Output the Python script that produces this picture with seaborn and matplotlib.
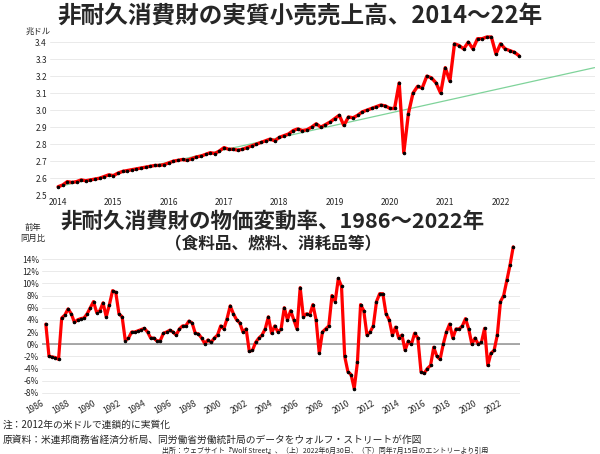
import numpy as np
import pandas as pd
import matplotlib.pyplot as plt
import seaborn as sns

sns.set_style("white")
plt.rcParams['font.family'] = ['Noto Sans CJK JP', 'DejaVu Sans']

# Top: real retail sales of nondurable goods, trillion USD, monthly 2014-01 .. 2022-05
sales = [
    2.55, 2.56, 2.58, 2.575, 2.58, 2.59, 2.585, 2.59, 2.595, 2.60, 2.61, 2.62,
    2.615, 2.63, 2.64, 2.645, 2.65, 2.655, 2.66, 2.665, 2.67, 2.675, 2.675, 2.68,
    2.69, 2.70, 2.705, 2.71, 2.705, 2.715, 2.725, 2.73, 2.74, 2.75, 2.745, 2.76,
    2.78, 2.77, 2.77, 2.765, 2.77, 2.78, 2.79, 2.80, 2.81, 2.82, 2.83, 2.82,
    2.84, 2.85, 2.86, 2.88, 2.89, 2.88, 2.885, 2.90, 2.92, 2.90, 2.915, 2.93,
    2.95, 2.97, 2.91, 2.96, 2.955, 2.97, 2.99, 3.00, 3.01, 3.02, 3.03, 3.025,
    3.01, 3.01, 3.16, 2.75, 2.98, 3.10, 3.14, 3.13, 3.20, 3.19, 3.16, 3.10,
    3.25, 3.17, 3.39, 3.38, 3.36, 3.40, 3.36, 3.42, 3.42, 3.43, 3.43, 3.33,
    3.39, 3.36, 3.35, 3.34, 3.32,
]
sales_x = [2014 + i / 12 for i in range(len(sales))]
trend_x = [2014.0, 2023.7]
trend_y = [2.55, 3.25]

# Bottom: price change, YoY %, quarterly from 1986
infl = [
    3.3, -2.0, -2.1, -2.2, -2.5, 4.3, 4.8, 5.8, 5.0, 3.6, 4.0, 4.2,
    4.3, 5.0, 6.0, 7.0, 5.2, 5.5, 6.8, 4.5, 6.5, 8.8, 8.5, 5.0,
    4.5, 0.6, 1.0, 2.0, 2.0, 2.2, 2.4, 2.6, 2.0, 1.0, 1.0, 0.5,
    0.6, 1.8, 2.0, 2.3, 2.0, 1.5, 2.5, 3.0, 3.0, 3.8, 3.5, 1.8,
    1.7, 1.0, 0.1, 0.7, 0.3, 1.0, 1.5, 3.0, 2.5, 4.2, 6.3, 5.0,
    4.0, 3.5, 2.0, 2.5, -1.2, -1.0, 0.3, 1.0, 1.5, 2.5, 4.5, 1.8,
    3.0, 2.0, 2.5, 6.0, 4.0, 5.5, 4.0, 2.5, 9.3, 4.5, 5.0, 4.8,
    6.5, 4.0, -1.5, 2.0, 2.5, 3.0, 8.0, 7.0, 10.8, 9.5, -2.0, -4.5,
    -5.0, -7.3, -3.0, 6.5, 5.5, 1.5, 2.0, 3.0, 7.0, 8.3, 8.3, 5.0,
    4.0, 1.5, 2.8, 1.0, 1.5, -1.0, 0.5, 0.0, 1.8, 1.0, -4.5, -4.8,
    -4.0, -3.5, -0.5, -2.0, -2.5, 0.0, 2.0, 3.3, 1.0, 2.5, 2.5, 3.0,
    4.2, 2.5, 0.0, 1.0, 0.0, 0.3, 2.6, -3.5, -1.5, -1.0, 1.5, 7.0,
    8.0, 10.5, 13.0, 16.0,
]
infl_x = [1986 + i / 4 for i in range(len(infl))]

fig = plt.figure(figsize=(6, 4.54), dpi=100)
ax1 = fig.add_axes([0.083, 0.570, 0.908, 0.356])
ax2 = fig.add_axes([0.07, 0.128, 0.797, 0.335])

# top chart
sns.lineplot(x=trend_x, y=trend_y, ax=ax1, color="#7fd39a", linewidth=0.9)
sns.lineplot(x=sales_x, y=sales, ax=ax1, color="red", linewidth=2.4,
             marker="o", markersize=1.8, markerfacecolor="black", markeredgecolor="black")
ax1.set_ylim(2.5, 3.45)
ax1.set_xlim(2013.85, 2023.7)
ax1.set_yticks(np.arange(2.5, 3.41, 0.1))
ax1.set_yticklabels([f"{v:.1f}" for v in np.arange(2.5, 3.41, 0.1)], fontsize=6)
ax1.set_xticks(range(2014, 2023))
ax1.set_xticklabels([str(y) for y in range(2014, 2023)], fontsize=6)
ax1.yaxis.grid(True, color="#e6e6e6", linewidth=0.6)
ax1.text(-0.045, 1.0, "兆ドル", transform=ax1.transAxes, fontsize=6)
ax1.tick_params(length=0, pad=2)
sns.despine(ax=ax1, left=True, bottom=True)

# bottom chart
ax2.axhline(0, color="#999999", linewidth=1.2)
sns.lineplot(x=infl_x, y=infl, ax=ax2, color="red", linewidth=2.3,
             marker="o", markersize=1.8, markerfacecolor="black", markeredgecolor="black")
ax2.set_ylim(-8.5, 16.5)
ax2.set_xlim(1985.7, 2023.3)
yt = list(range(-8, 15, 2))
ax2.set_yticks(yt)
ax2.set_yticklabels([f"{v}%" for v in yt], fontsize=6)
xt = list(range(1986, 2023, 2))
ax2.set_xticks(xt)
ax2.set_xticklabels([str(y) for y in xt], fontsize=6, rotation=30, ha="right")
ax2.yaxis.grid(True, color="#e6e6e6", linewidth=0.6)
ax2.tick_params(length=0, pad=2)
sns.despine(ax=ax2, left=True, bottom=True)
fig.text(0.055, 0.465, "前年\n同月比", fontsize=6, ha="center", va="bottom")

fig.text(0.5, 0.965, "非耐久消費財の実質小売売上高、2014～22年", ha="center", va="center",
         fontsize=17, fontweight="bold")
fig.text(0.455, 0.512, "非耐久消費財の物価変動率、1986～2022年", ha="center", va="center",
         fontsize=15.5, fontweight="bold")
fig.text(0.455, 0.462, "（食料品、燃料、消耗品等）", ha="center", va="center",
         fontsize=12, fontweight="bold")
fig.text(0.005, 0.064, "注：2012年の米ドルで連鎖的に実質化", fontsize=7, va="center")
fig.text(0.005, 0.031, "原資料：米連邦商務省経済分析局、同労働省労働統計局のデータをウォルフ・ストリートが作図",
         fontsize=7, va="center")
fig.text(0.27, 0.007, "出所：ウェブサイト『Wolf Street』、（上）2022年6月30日、（下）同年7月15日のエントリーより引用",
         fontsize=5, va="center")

fig.savefig("out.png", dpi=100)
